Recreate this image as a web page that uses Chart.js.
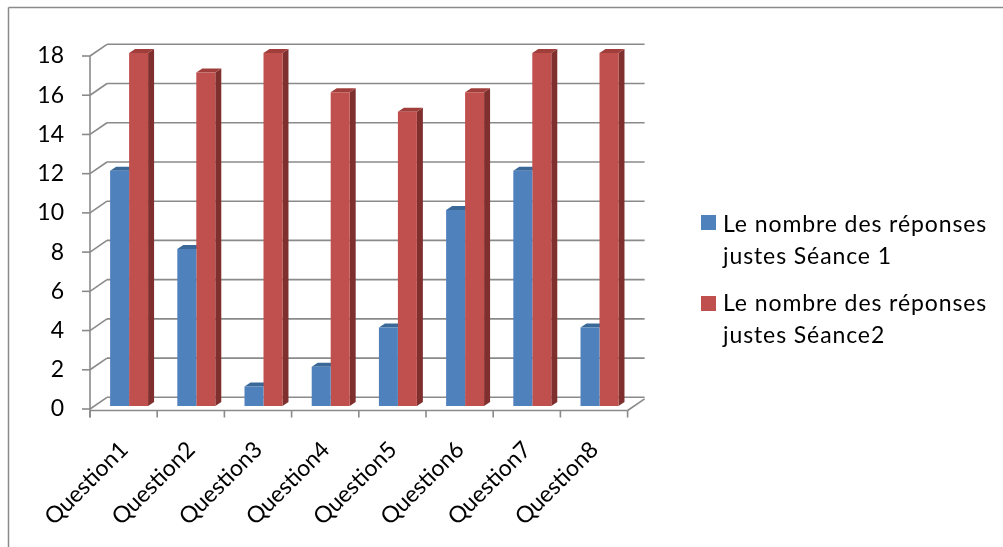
<!DOCTYPE html>
<html><head><meta charset="utf-8">
<script src="https://cdn.jsdelivr.net/npm/chart.js@4.4.0/dist/chart.umd.min.js"></script>
<style>html,body{margin:0;padding:0;background:#fff;overflow:hidden}#wrap{position:absolute;left:0;top:0;width:1003px;height:547px}</style>
</head><body><div id="wrap"><canvas id="c" width="1003" height="547"></canvas></div>
<script>
const categories = ['Question1','Question2','Question3','Question4','Question5','Question6','Question7','Question8'];
const seance1 = [12, 8, 1, 2, 4, 10, 12, 4];
const seance2 = [18, 17, 18, 16, 15, 16, 18, 18];
const seriesLabels = [['Le nombre des réponses', 'justes Séance 1'], ['Le nombre des réponses', 'justes Séance2']];
const yMin = 0, yMax = 18, yStep = 2;

const FONT = 'Lato';
const FONT_SIZE = 23;
const frontColors = ['#4F81BD', '#C0504D'];
const topColors = ['#3A6898', '#A03E3B'];
const sideColors = ['#2F5580', '#7F302E'];

const FX = -5.5, FY = 3, DX = 17, DY = -11.7;   // frame vs bar plane, wall depth
const BDX = 6, BDY = -4;                         // bar depth

function line(ctx, a, b, c, d) { ctx.beginPath(); ctx.moveTo(a, b); ctx.lineTo(c, d); ctx.stroke(); }

const frame3d = {
  id: 'frame3d',
  beforeDraw(chart) {
    const ctx = chart.ctx;
    ctx.save();
    ctx.fillStyle = '#fff';
    ctx.fillRect(0, 0, chart.width, chart.height);
    ctx.strokeStyle = '#8a8a8a';
    ctx.lineWidth = 1.5;
    line(ctx, 8.5, 7.5, chart.width, 7.5);
    line(ctx, 8.5, 7.5, 8.5, chart.height);
    ctx.restore();
  },
  beforeDatasetsDraw(chart) {
    const ctx = chart.ctx, ca = chart.chartArea, ys = chart.scales.y, xs = chart.scales.x;
    const n = categories.length;
    const catW = (ca.right - ca.left) / n;
    const x0 = ca.left + FX, x1 = ca.right + FX;
    ctx.save();
    ctx.strokeStyle = '#8a8a8a';
    ctx.lineWidth = 1.6;
    ctx.lineCap = 'butt';
    for (let v = yMin; v <= yMax; v += yStep) {
      const y = ys.getPixelForValue(v) + FY;
      line(ctx, x0 - 8, y, x0, y);
      line(ctx, x0, y, x0 + DX, y + DY);
      line(ctx, x0 + DX, y + DY, x1 + DX, y + DY);
    }
    const yTop = ys.getPixelForValue(yMax) + FY;
    const y0 = ys.getPixelForValue(yMin) + FY;
    const yf = y0 + 1.5;
    line(ctx, x0, yTop, x0, yf + 7);
    line(ctx, x0, yf, x1, yf);
    line(ctx, x1, yf, x1 + DX, yf + DY);
    for (let k = 0; k <= n; k++) {
      const x = xs.getPixelForValue(Math.min(k, n - 1)) + (k === n ? catW / 2 : -catW / 2) + FX;
      line(ctx, x, yf, x, yf + 7);
    }
    // bar extrusions
    const last = chart.data.datasets.length - 1;
    chart.data.datasets.forEach((ds, i) => {
      const meta = chart.getDatasetMeta(i);
      meta.data.forEach(el => {
        const p = el.getProps(['x', 'y', 'base', 'width'], true);
        const l = p.x - p.width / 2, r = p.x + p.width / 2;
        if (i === last) {
          ctx.fillStyle = sideColors[i];
          ctx.beginPath();
          ctx.moveTo(r, p.y); ctx.lineTo(r + BDX, p.y + BDY); ctx.lineTo(r + BDX, p.base + BDY); ctx.lineTo(r, p.base);
          ctx.closePath(); ctx.fill();
        }
        ctx.fillStyle = topColors[i];
        ctx.beginPath();
        ctx.moveTo(l, p.y); ctx.lineTo(l + BDX, p.y + BDY); ctx.lineTo(r + BDX, p.y + BDY); ctx.lineTo(r, p.y);
        ctx.closePath(); ctx.fill();
      });
    });
    ctx.restore();
  },
  afterDraw(chart) {
    const ctx = chart.ctx;
    ctx.save();
    ctx.font = FONT_SIZE + 'px ' + FONT;
    if ('letterSpacing' in ctx) ctx.letterSpacing = '0.9px';
    ctx.textBaseline = 'alphabetic';
    ctx.textAlign = 'left';
    const items = [{ sq: 215, base: 231.5 }, { sq: 296, base: 310.5 }];
    chart.data.datasets.forEach((ds, i) => {
      ctx.fillStyle = frontColors[i];
      ctx.fillRect(701, items[i].sq, 15, 15);
      ctx.fillStyle = '#000';
      ds.label.forEach((t, j) => ctx.fillText(t, 723, items[i].base + j * 32));
    });
    ctx.restore();
  }
};

function build() {
  new Chart(document.getElementById('c'), {
    type: 'bar',
    data: {
      labels: categories,
      datasets: [
        { label: seriesLabels[0], data: seance1, backgroundColor: frontColors[0], borderWidth: 0 },
        { label: seriesLabels[1], data: seance2, backgroundColor: frontColors[1], borderWidth: 0 }
      ]
    },
    options: {
      responsive: false,
      animation: false,
      events: [],
      layout: { padding: { top: 53, right: 369.9, bottom: 0, left: 0 } },
      plugins: { legend: { display: false }, tooltip: { enabled: false }, title: { display: false } },
      datasets: { bar: { categoryPercentage: 0.565, barPercentage: 1 } },
      scales: {
        x: {
          grid: { display: false, drawTicks: false },
          border: { display: false },
          ticks: { font: { family: FONT, size: FONT_SIZE }, color: '#000', minRotation: 45, maxRotation: 45, autoSkip: false, padding: 30, labelOffset: -5 },
          afterFit: s => { s.height = 141; }
        },
        y: {
          min: yMin, max: yMax,
          grid: { display: false, drawTicks: false },
          border: { display: false },
          ticks: { stepSize: yStep, font: { family: FONT, size: FONT_SIZE }, color: '#000', padding: 31.5, labelOffset: 3 },
          afterFit: s => { s.width = 95.5; }
        }
      }
    },
    plugins: [frame3d]
  });
}
if (document.fonts && document.fonts.load) {
  document.fonts.load(FONT_SIZE + 'px ' + FONT).then(build, build);
} else build();
</script>
</body></html>
